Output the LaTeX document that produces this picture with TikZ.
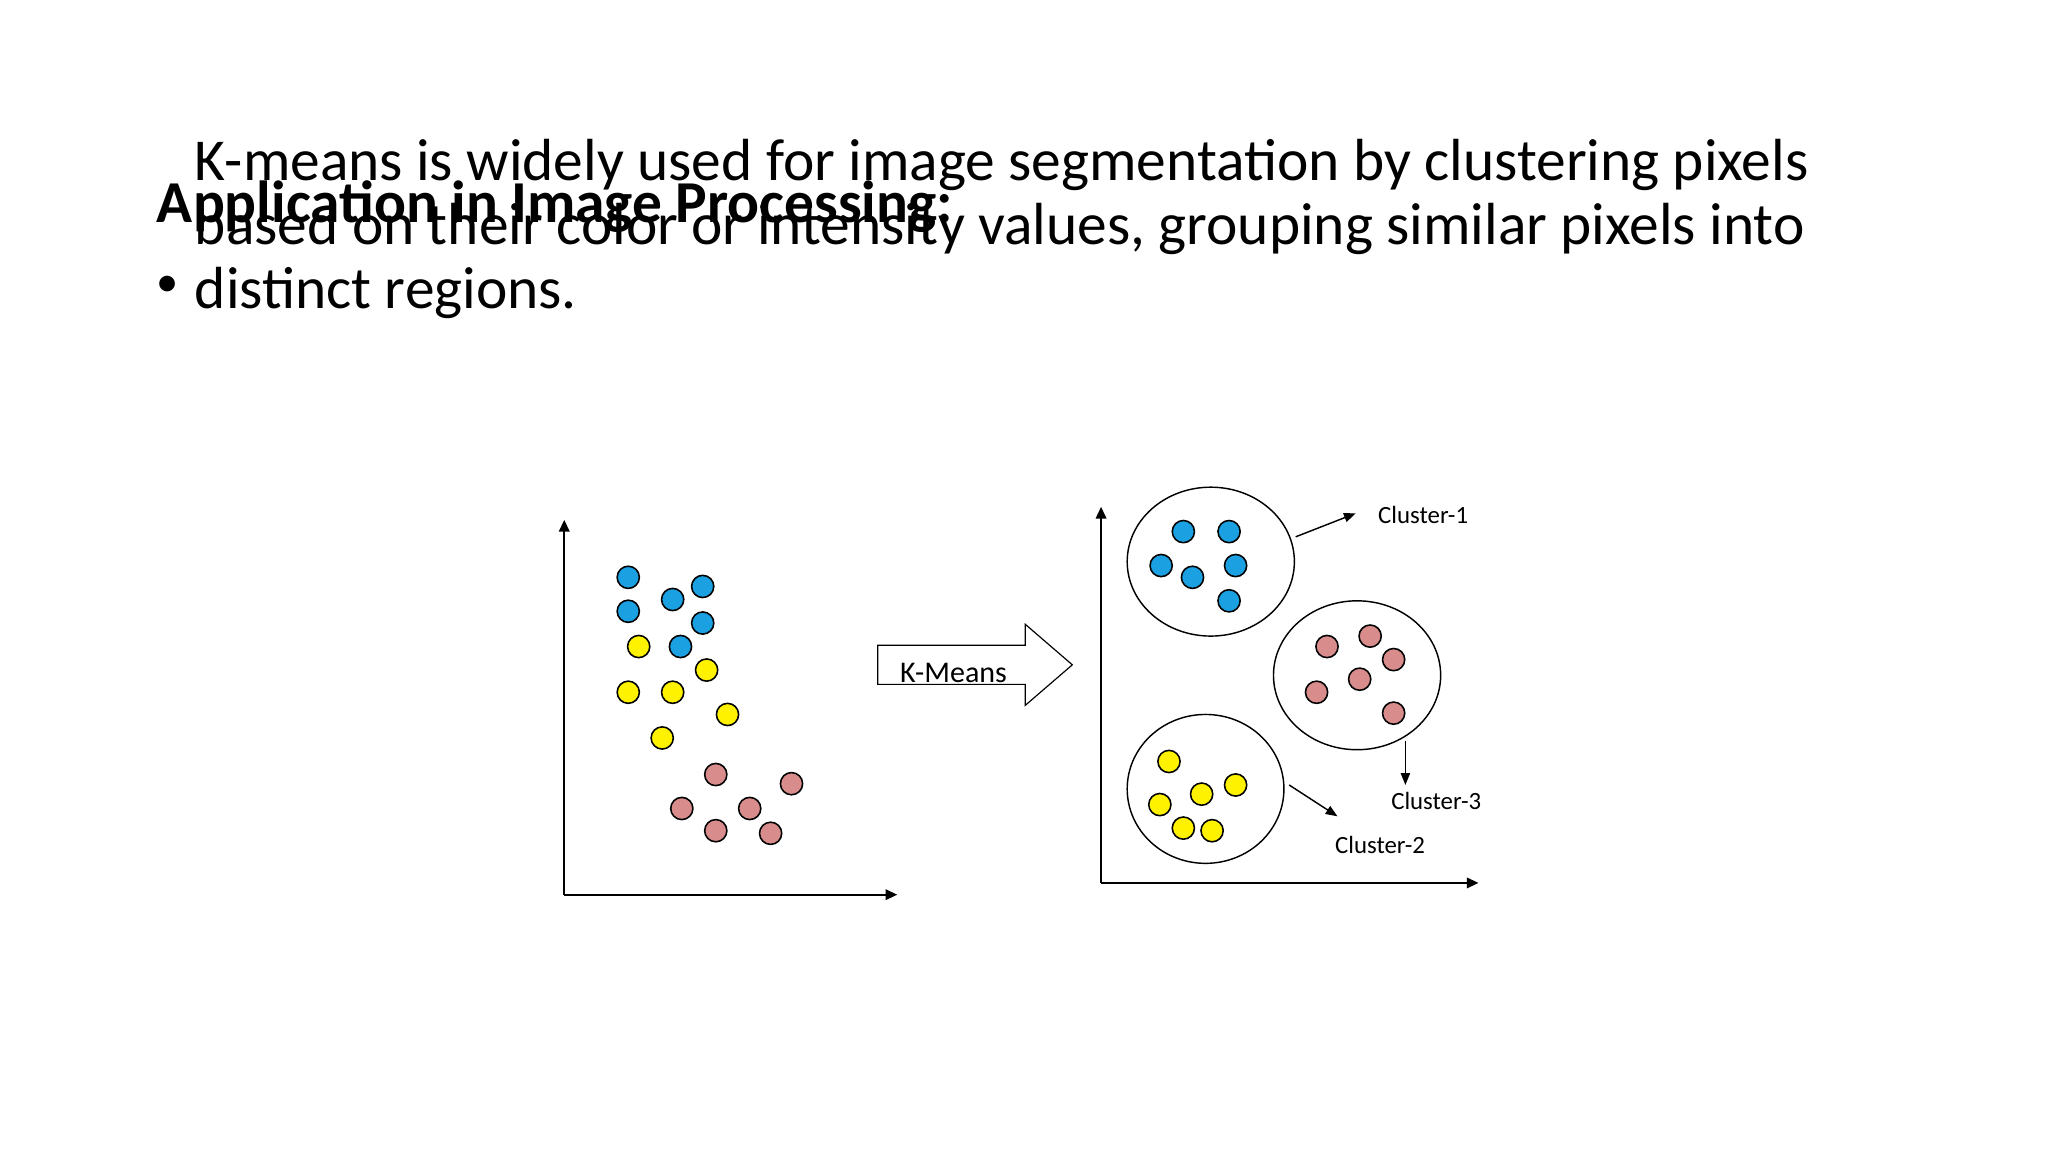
\documentclass[tikz,border=0pt]{standalone}
\usepackage{fontspec}
\setmainfont{Carlito}
\usetikzlibrary{arrows.meta,shapes.geometric}
\definecolor{cblue}{HTML}{1BA1E2}
\definecolor{cyel}{HTML}{FFF200}
\definecolor{cpink}{HTML}{D98C8C}
\begin{document}
\begin{tikzpicture}[x=1pt,y=-1pt,
  dot/.style={circle,draw=black,line width=1.2pt,minimum size=17pt,inner sep=0pt},
  axis/.style={line width=1.6pt,-{Triangle[length=9pt,width=8pt]}},
  lbl/.style={anchor=west,inner sep=0pt,font=\fontsize{19}{21}\selectfont},
  carr/.style={line width=1.1pt,-{Triangle[length=9pt,width=7pt]}},
  blob/.style={ellipse,draw=black,line width=1.1pt}]
\useasboundingbox (0,0) rectangle (1568,882);
\node[anchor=base west,inner sep=0pt,font=\fontsize{45.5}{50}\selectfont\bfseries] (title) at (120,170) {Application in Image Processing:};
\node[inner sep=0pt,font=\fontsize{34}{40}\selectfont] (bul) at (128,219) {•};
\node[anchor=base west,inner sep=0pt,align=left,font=\fontsize{45.5}{49}\selectfont] (body) at (149,236) {K-means is widely used for image segmentation by clustering pixels\\based on their color or intensity values, grouping similar pixels into\\distinct regions.};
% left axes
\coordinate (o1) at (432,685); \coordinate (y1) at (432,398); \coordinate (x1) at (687,685);
\draw[axis] (o1) -- (y1); \draw[axis] (o1) -- (x1);
\foreach \x/\y/\c [count=\i] in {481/442/cblue,481/468/cblue,515/459/cblue,538/449/cblue,538/477/cblue,521/495/cblue,
 489/495/cyel,541/513/cyel,481/530/cyel,515/530/cyel,557/547/cyel,507/565/cyel,
 548/593/cpink,606/600/cpink,522/619/cpink,574/619/cpink,548/636/cpink,590/638/cpink}{
 \node[dot,fill=\c] (l\i) at (\x,\y) {};}
% block arrow
\draw[line width=0.9pt,fill=white] (672,494) -- (785,494) -- (785,478) -- (821,509) -- (785,540) -- (785,524) -- (672,524) -- cycle;
\node[inner sep=0pt,font=\fontsize{23}{25}\selectfont] (km) at (730,515) {K-Means};
% right axes
\coordinate (o2) at (843,676); \coordinate (y2) at (843,388); \coordinate (x2) at (1132,676);
\draw[axis] (o2) -- (y2); \draw[axis] (o2) -- (x2);
\node[blob,minimum width=128pt,minimum height=114pt] (c1) at (927,430) {};
\node[blob,minimum width=128pt,minimum height=114pt] (c3) at (1039,517) {};
\node[blob,minimum width=120pt,minimum height=114pt] (c2) at (923,604) {};
\foreach \x/\y/\c [count=\i] in {906/407/cblue,941/407/cblue,889/433/cblue,913/442/cblue,946/433/cblue,941/460/cblue,
 1016/495/cpink,1049/487/cpink,1067/505/cpink,1041/520/cpink,1008/530/cpink,1067/546/cpink,
 895/583/cyel,946/601/cyel,920/608/cyel,888/616/cyel,906/634/cyel,928/636/cyel}{
 \node[dot,fill=\c] (r\i) at (\x,\y) {};}
\coordinate (a1) at (992,411); \coordinate (b1) at (1038,393);
\coordinate (a3) at (1076,567); \coordinate (b3) at (1076,601);
\coordinate (a2) at (987,601); \coordinate (b2) at (1024,625);
\draw[carr] (a1) -- (b1); \draw[carr] (a3) -- (b3); \draw[carr] (a2) -- (b2);
\node[lbl] (t1) at (1055,394) {Cluster-1};
\node[lbl] (t3) at (1065,613) {Cluster-3};
\node[lbl] (t2) at (1022,647) {Cluster-2};
\end{tikzpicture}
\end{document}
